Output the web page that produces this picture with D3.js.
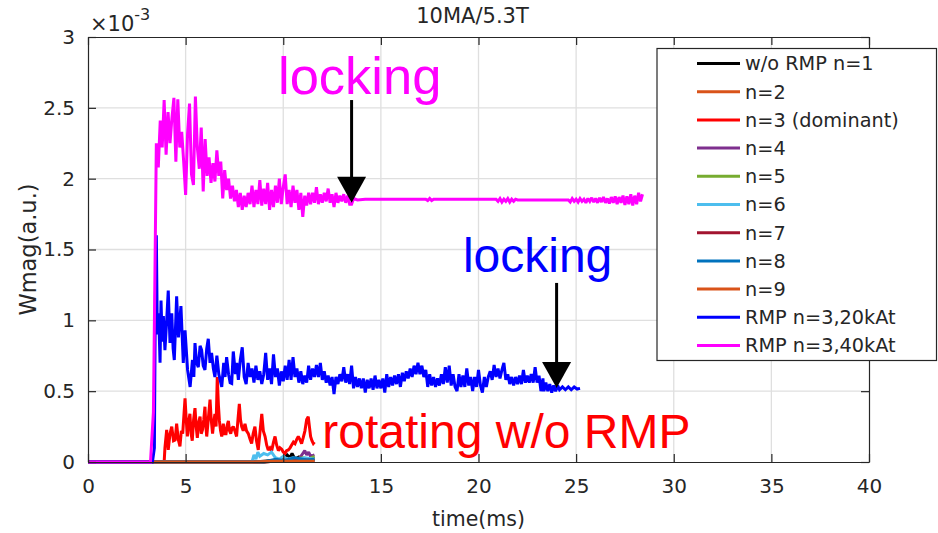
<!DOCTYPE html>
<html><head><meta charset="utf-8">
<script src="https://cdn.jsdelivr.net/npm/d3@7"></script>
<style>body{margin:0;background:#fff}svg{display:block}</style>
</head><body><svg id="c" width="938" height="533"></svg>
<script>
// ---------- data ----------
const chartTitle = "10MA/5.3T";
const xLabel = "time(ms)";
const yLabel = "Wmag(a.u.)";
const xTicks = [0, 5, 10, 15, 20, 25, 30, 35, 40];
const yTicks = [0, 0.5, 1, 1.5, 2, 2.5, 3];
const seriesNames = ["w/o RMP n=1", "n=2", "n=3 (dominant)", "n=4", "n=5", "n=6", "n=7", "n=8", "n=9", "RMP n=3,20kAt", "RMP n=3,40kAt"];
const seriesColors = ["#000000", "#D95319", "#FF0000", "#7E2F8E", "#77AC30", "#4DBEEE", "#A2142F", "#0072BD", "#D95319", "#0000FF", "#FF00FF"];

// values in units of 1e-3, [time(ms), Wmag]
const n1 = [[0,0],[8.5,0],[9.5,0.01],[10.0,0.02],[10.2,0.05],[10.35,0.03],[10.45,0.06],[10.6,0.02],[10.8,0.035],[11.0,0.015],[11.3,0.025],[11.6,0.02]];
const n2 = [[0,0],[8.5,0],[9.5,0.005],[10.5,0.01],[11.6,0.01]];
const n3 = [[0,0],[3.9,0],[3.94,0.1],[4.03,0.226],[4.11,0.085],[4.2,0.2],[4.29,0.25],[4.38,0.15],[4.46,0.155],[4.54,0.27],[4.62,0.16],[4.71,0.11],[4.78,0.22],[4.85,0.2],[4.97,0.45],[5.03,0.3],[5.09,0.18],[5.15,0.28],[5.22,0.34],[5.28,0.2],[5.34,0.15],[5.41,0.3],[5.48,0.38],[5.54,0.25],[5.6,0.17],[5.67,0.28],[5.74,0.32],[5.8,0.2],[5.87,0.23],[5.93,0.3],[5.99,0.39],[6.04,0.25],[6.08,0.18],[6.16,0.3],[6.25,0.44],[6.31,0.3],[6.38,0.2],[6.44,0.28],[6.5,0.34],[6.56,0.25],[6.62,0.6],[6.68,0.4],[6.73,0.29],[6.79,0.22],[6.85,0.18],[6.93,0.27],[7.0,0.2],[7.07,0.2],[7.13,0.26],[7.19,0.29],[7.25,0.22],[7.31,0.2],[7.38,0.24],[7.44,0.25],[7.52,0.22],[7.61,0.18],[7.68,0.3],[7.75,0.41],[7.81,0.3],[7.87,0.25],[7.95,0.22],[8.04,0.27],[8.12,0.22],[8.21,0.2],[8.3,0.16],[8.38,0.13],[8.46,0.2],[8.55,0.25],[8.63,0.15],[8.72,0.085],[8.8,0.2],[8.9,0.34],[8.98,0.22],[9.07,0.18],[9.15,0.12],[9.23,0.085],[9.32,0.1],[9.41,0.08],[9.5,0.14],[9.58,0.18],[9.66,0.12],[9.75,0.08],[9.83,0.1],[9.92,0.09],[10.0,0.07],[10.09,0.06],[10.17,0.08],[10.26,0.085],[10.35,0.1],[10.43,0.12],[10.52,0.14],[10.6,0.13],[10.69,0.16],[10.77,0.18],[10.85,0.16],[10.94,0.13],[11.02,0.17],[11.11,0.22],[11.2,0.3],[11.28,0.32],[11.34,0.25],[11.4,0.18],[11.47,0.15],[11.54,0.13],[11.6,0.14]];
const n4 = [[0,0],[9,0],[10,0.01],[10.8,0.02],[11.0,0.06],[11.1,0.08],[11.2,0.05],[11.3,0.07],[11.4,0.04],[11.6,0.05]];
const n5 = [[0,0],[9,0],[10,0.01],[10.5,0.02],[11,0.03],[11.3,0.02],[11.6,0.04]];
const n6 = [[0,0],[8.4,0],[8.5,0.05],[8.6,0.02],[8.7,0.07],[8.8,0.04],[9.0,0.06],[9.2,0.05],[9.4,0.07],[9.6,0.03],[9.8,0.02],[10,0.04],[10.2,0.02],[10.5,0.03],[10.8,0.02],[11.1,0.03],[11.6,0.02]];
const n7 = [[0,0],[9,0],[10,0.01],[11,0.015],[11.6,0.01]];
const n8 = [[0,0],[9,0],[9.6,0.02],[10,0.01],[10.6,0.03],[11.2,0.015],[11.6,0.02]];
const n9 = [[0,0],[8.5,0],[9.5,0.005],[11.6,0.005]];
const rmp20 = [[0,0],[3.3,0],[3.4,0.1],[3.45,1.155],[3.5,1.6],[3.55,0.9],[3.62,1.05],[3.69,0.7],[3.74,1.14],[3.8,0.85],[3.86,1.03],[3.94,0.79],[4.03,1.0],[4.11,1.21],[4.2,0.84],[4.29,1.05],[4.36,0.8],[4.42,0.72],[4.54,1.17],[4.63,0.88],[4.76,1.1],[4.88,0.7],[4.97,0.93],[5.1,0.65],[5.23,0.53],[5.35,0.72],[5.42,0.6],[5.48,0.84],[5.56,0.7],[5.65,0.67],[5.74,0.82],[5.82,0.79],[5.9,0.68],[5.99,0.65],[6.08,0.8],[6.16,0.87],[6.25,0.7],[6.33,0.77],[6.42,0.66],[6.5,0.6],[6.6,0.75],[6.7,0.62],[6.85,0.53],[6.95,0.7],[7.02,0.6],[7.1,0.74],[7.2,0.62],[7.28,0.56],[7.36,0.555],[7.44,0.78],[7.55,0.62],[7.62,0.7],[7.7,0.58],[7.8,0.72],[7.9,0.81],[8.0,0.6],[8.1,0.55],[8.2,0.7],[8.3,0.6],[8.4,0.66],[8.5,0.56],[8.6,0.68],[8.7,0.58],[8.8,0.64],[8.9,0.55],[9.0,0.62],[9.1,0.77],[9.2,0.58],[9.3,0.66],[9.4,0.55],[9.5,0.76],[9.6,0.6],[9.7,0.66],[9.8,0.54],[9.9,0.64],[10.0,0.57],[10.1,0.68],[10.2,0.58],[10.3,0.72],[10.4,0.58],[10.5,0.74],[10.6,0.6],[10.7,0.66],[10.8,0.56],[10.9,0.64],[11.0,0.55],[11.1,0.61],[11.2,0.56],[11.3,0.68],[11.4,0.58],[11.5,0.66],[11.6,0.6],[11.7,0.685],[11.8,0.6],[11.9,0.7],[12.0,0.58],[12.1,0.64],[12.2,0.56],[12.3,0.61],[12.4,0.54],[12.5,0.6],[12.6,0.48],[12.7,0.6],[12.8,0.55],[12.9,0.62],[13.0,0.57],[13.1,0.67],[13.2,0.56],[13.3,0.62],[13.4,0.55],[13.5,0.68],[13.6,0.52],[13.7,0.6],[13.8,0.53],[13.9,0.59],[14.0,0.52],[14.1,0.59],[14.2,0.49],[14.3,0.58],[14.4,0.52],[14.5,0.59],[14.6,0.51],[14.7,0.61],[14.8,0.52],[14.9,0.58],[15.0,0.52],[15.1,0.59],[15.2,0.49],[15.3,0.62],[15.4,0.53],[15.5,0.6],[15.6,0.54],[15.7,0.61],[15.8,0.55],[15.9,0.62],[16.0,0.53],[16.1,0.63],[16.2,0.57],[16.3,0.64],[16.4,0.59],[16.5,0.66],[16.6,0.6],[16.7,0.68],[16.8,0.62],[16.9,0.7],[17.0,0.62],[17.1,0.68],[17.2,0.6],[17.3,0.65],[17.4,0.53],[17.5,0.62],[17.6,0.54],[17.7,0.6],[17.8,0.53],[17.9,0.59],[18.0,0.54],[18.1,0.62],[18.2,0.55],[18.3,0.67],[18.4,0.56],[18.5,0.68],[18.6,0.54],[18.7,0.62],[18.8,0.53],[18.9,0.5],[19.0,0.62],[19.1,0.53],[19.2,0.61],[19.3,0.53],[19.4,0.66],[19.5,0.54],[19.6,0.6],[19.7,0.5],[19.8,0.6],[19.9,0.53],[20.0,0.65],[20.1,0.54],[20.2,0.49],[20.3,0.6],[20.4,0.53],[20.5,0.6],[20.6,0.64],[20.7,0.58],[20.8,0.685],[20.9,0.6],[21.0,0.66],[21.1,0.59],[21.2,0.65],[21.3,0.7],[21.4,0.58],[21.5,0.62],[21.6,0.55],[21.7,0.6],[21.8,0.54],[21.9,0.6],[22.0,0.55],[22.1,0.61],[22.2,0.55],[22.3,0.65],[22.4,0.56],[22.5,0.61],[22.6,0.56],[22.7,0.62],[22.8,0.56],[22.9,0.67],[23.0,0.56],[23.1,0.61],[23.2,0.5],[23.3,0.59],[23.35,0.5],[23.45,0.56],[23.55,0.5],[23.65,0.55],[23.75,0.49],[23.85,0.54],[23.95,0.5],[24.05,0.54],[24.15,0.51],[24.3,0.53],[24.45,0.51],[24.6,0.53],[24.75,0.51],[24.9,0.53],[25.05,0.515],[25.2,0.52]];
const rmp40 = [[0,0],[3.2,0],[3.35,0.35],[3.45,1.6],[3.5,2.25],[3.6,2.08],[3.7,2.41],[3.8,2.22],[3.9,2.555],[4.0,2.17],[4.1,2.47],[4.2,2.25],[4.3,2.43],[4.4,2.57],[4.5,2.12],[4.6,2.56],[4.7,2.22],[4.8,2.33],[4.9,2.12],[5.0,1.885],[5.1,2.32],[5.2,2.53],[5.3,2.03],[5.4,1.955],[5.5,2.58],[5.6,2.22],[5.7,2.07],[5.8,2.36],[5.9,1.91],[6.0,2.28],[6.1,2.02],[6.2,2.15],[6.3,1.97],[6.4,2.11],[6.5,1.98],[6.6,2.2],[6.7,2.02],[6.8,2.12],[6.9,1.86],[7.0,2.06],[7.1,1.92],[7.2,2.0],[7.3,1.86],[7.4,1.95],[7.5,1.84],[7.6,1.92],[7.7,1.8],[7.8,1.9],[7.9,1.78],[8.0,1.88],[8.1,1.8],[8.2,1.9],[8.3,1.82],[8.4,1.95],[8.5,1.8],[8.6,1.92],[8.7,1.82],[8.8,1.99],[8.9,1.81],[9.0,1.93],[9.1,1.82],[9.2,1.97],[9.3,1.78],[9.4,1.92],[9.5,1.8],[9.6,1.95],[9.7,1.83],[9.8,2.0],[9.9,1.82],[10.0,1.94],[10.1,2.03],[10.2,1.82],[10.3,1.92],[10.4,1.8],[10.5,1.95],[10.6,1.83],[10.7,1.92],[10.8,1.78],[10.9,1.9],[11.0,1.73],[11.1,1.88],[11.2,1.81],[11.3,1.9],[11.4,1.82],[11.5,1.9],[11.6,1.83],[11.7,1.94],[11.8,1.82],[11.9,1.89],[12.0,1.83],[12.1,1.9],[12.2,1.84],[12.3,1.93],[12.4,1.83],[12.5,1.89],[12.6,1.8],[12.7,1.9],[12.8,1.83],[12.9,1.88],[13.0,1.84],[13.1,1.89],[13.2,1.83],[13.3,1.88],[13.4,1.82],[13.5,1.82],[13.6,1.86],[13.8,1.85],[14.2,1.855],[17.3,1.855],[17.4,1.845],[17.5,1.86],[17.6,1.845],[17.7,1.855],[20.9,1.855],[21.0,1.84],[21.1,1.86],[21.2,1.835],[21.3,1.855],[21.4,1.84],[21.5,1.86],[21.6,1.835],[21.7,1.855],[21.8,1.84],[21.9,1.855],[22.0,1.85],[24.6,1.85],[24.7,1.835],[24.8,1.86],[24.9,1.84],[25.0,1.855],[25.1,1.835],[25.2,1.86],[25.3,1.84],[25.4,1.855],[25.5,1.83],[25.6,1.86],[25.7,1.84],[25.8,1.865],[25.9,1.835],[26.0,1.86],[26.1,1.83],[26.2,1.865],[26.3,1.835],[26.4,1.87],[26.5,1.83],[26.6,1.86],[26.7,1.825],[26.8,1.87],[26.9,1.83],[27.0,1.875],[27.1,1.82],[27.2,1.87],[27.3,1.83],[27.4,1.88],[27.5,1.815],[27.6,1.875],[27.7,1.82],[27.8,1.89],[27.9,1.81],[28.0,1.88],[28.1,1.82],[28.2,1.9],[28.3,1.84],[28.4,1.89]];

// annotations: text, colour, anchor time, anchor value, font size
const annoTexts = ["locking", "locking", "rotating w/o RMP"];
const annoColors = ["#FF00FF", "#0000FF", "#FF0000"];
const annoT = [9.73, 19.2, 12.0];
const annoV = [2.6, 1.34, 0.1];
const annoSize = [52.5, 48, 48];
// arrows: time, shaft top value, tip value
const arrowT = [13.5, 24.0];
const arrowTop = [2.555, 1.264];
const arrowTip = [1.83, 0.522];

// ---------- drawing ----------
const allSeries = [n1, n2, n3, n4, n5, n6, n7, n8, n9, rmp20, rmp40];
const svg = d3.select("#c");
const W = 938, H = 533;
const L = 88, R = 869, T = 37, B = 462;
const x = d3.scaleLinear().domain([0, 40]).range([L, R]);
const y = d3.scaleLinear().domain([0, 3]).range([B, T]);
const fontUI = "'DejaVu Sans', 'Noto Sans', sans-serif";
const fontAnno = "'Liberation Sans', Arial, sans-serif";
const axisCol = "#262626";

svg.append("rect").attr("width", W).attr("height", H).attr("fill", "#fff");

// grid
const grid = svg.append("g");
grid.selectAll("line.gx").data(xTicks.slice(1, -1)).join("line")
  .attr("x1", d => x(d)).attr("x2", d => x(d)).attr("y1", T).attr("y2", B)
  .attr("stroke", "#DFDFDF").attr("stroke-width", 1.3);
grid.selectAll("line.gy").data(yTicks.slice(1, -1)).join("line")
  .attr("x1", L).attr("x2", R).attr("y1", d => y(d)).attr("y2", d => y(d))
  .attr("stroke", "#DFDFDF").attr("stroke-width", 1.3);

// lines
const line = d3.line().x(d => x(d[0])).y(d => y(d[1]));
const plot = svg.append("g");
allSeries.forEach((s, i) => {
  plot.append("path").datum(s).attr("d", line).attr("fill", "none")
    .attr("stroke", seriesColors[i]).attr("stroke-width", 3)
    .attr("stroke-linejoin", "miter").attr("stroke-miterlimit", 2);
});

// axes (ticks inward)
const tickLen = 8;
const xAxis = svg.append("g").attr("transform", `translate(0,${B})`)
  .call(d3.axisBottom(x).tickValues(xTicks).tickFormat(d3.format("d")).tickSizeInner(-tickLen).tickSizeOuter(0).tickPadding(17));
const xAxisTop = svg.append("g").attr("transform", `translate(0,${T})`)
  .call(d3.axisTop(x).tickValues(xTicks).tickFormat("").tickSizeInner(-tickLen).tickSizeOuter(0));
const yAxis = svg.append("g").attr("transform", `translate(${L},0)`)
  .call(d3.axisLeft(y).tickValues(yTicks).tickFormat(d3.format("")).tickSizeInner(-tickLen).tickSizeOuter(0).tickPadding(13));
const yAxisR = svg.append("g").attr("transform", `translate(${R},0)`)
  .call(d3.axisRight(y).tickValues(yTicks).tickFormat("").tickSizeInner(-tickLen).tickSizeOuter(0));
[xAxis, xAxisTop, yAxis, yAxisR].forEach(g => {
  g.select(".domain").attr("stroke", axisCol).attr("stroke-width", 1.2);
  g.selectAll(".tick line").attr("stroke", axisCol).attr("stroke-width", 1.2);
  g.selectAll(".tick text").attr("fill", axisCol).attr("font-family", fontUI).attr("font-size", 20);
});

// axis labels & title
svg.append("text").attr("x", (L + R) / 2).attr("y", 526).attr("text-anchor", "middle")
  .attr("font-family", fontUI).attr("font-size", 20.5).attr("fill", axisCol).text(xLabel);
svg.append("text").attr("transform", `translate(36,${(T + B) / 2}) rotate(-90)`).attr("text-anchor", "middle")
  .attr("font-family", fontUI).attr("font-size", 22.5).attr("fill", axisCol).text(yLabel);
svg.append("text").attr("x", (L + R) / 2 - 6).attr("y", 23).attr("text-anchor", "middle")
  .attr("font-family", fontUI).attr("font-size", 21).attr("fill", axisCol).text(chartTitle);
const mult = svg.append("text").attr("x", 90).attr("y", 31).attr("font-family", fontUI)
  .attr("font-size", 21).attr("fill", axisCol);
mult.append("tspan").text("×10");
mult.append("tspan").attr("font-size", 16).attr("dy", -11).text("-3");

// annotations
annoTexts.forEach((t, i) => {
  svg.append("text").attr("x", x(annoT[i])).attr("y", y(annoV[i]))
    .attr("font-family", fontAnno).attr("font-size", annoSize[i]).attr("fill", annoColors[i]).text(t);
});
arrowT.forEach((t, i) => {
  const ax = x(t), top = y(arrowTop[i]), tip = y(arrowTip[i]);
  const headH = 26, headW = 14.5;
  svg.append("line").attr("x1", ax).attr("x2", ax).attr("y1", top).attr("y2", tip - headH + 2)
    .attr("stroke", "#000").attr("stroke-width", 3);
  svg.append("path").attr("d", `M${ax - headW},${tip - headH} L${ax + headW},${tip - headH} L${ax},${tip} Z`).attr("fill", "#000");
});

// legend
const lg = svg.append("g");
lg.append("rect").attr("x", 657).attr("y", 48.5).attr("width", 279.5).attr("height", 312)
  .attr("fill", "#fff").attr("stroke", axisCol).attr("stroke-width", 1.2);
seriesNames.forEach((nm, i) => {
  const cy = 63.5 + i * 28.2;
  lg.append("line").attr("x1", 697).attr("x2", 740).attr("y1", cy).attr("y2", cy)
    .attr("stroke", seriesColors[i]).attr("stroke-width", 3);
  lg.append("text").attr("x", 745).attr("y", cy).attr("dy", "0.36em")
    .attr("font-family", fontUI).attr("font-size", 19.3).attr("fill", axisCol).text(nm);
});
</script></body></html>
